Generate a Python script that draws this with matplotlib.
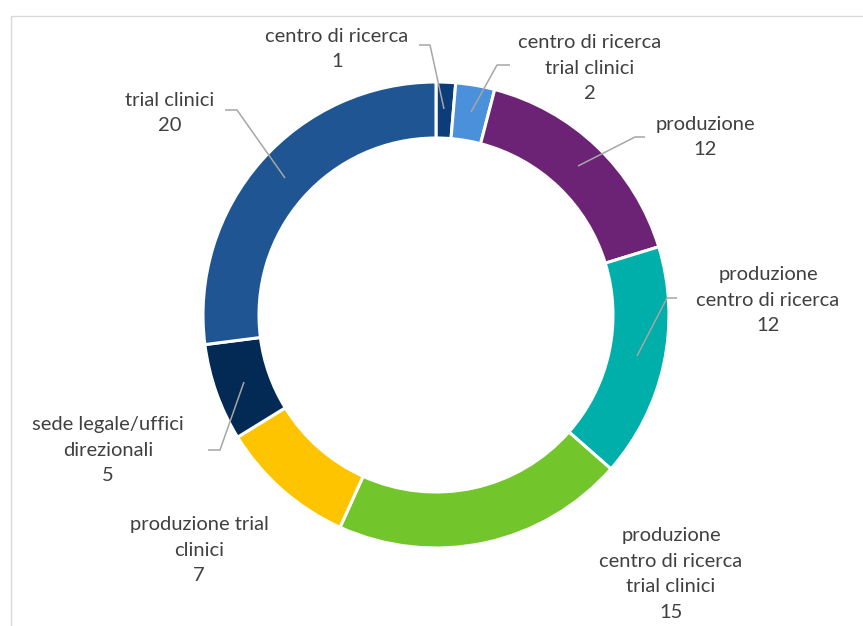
import matplotlib
matplotlib.use("Agg")
import matplotlib.pyplot as plt

categories = ["centro di ricerca", "centro di ricerca\ntrial clinici", "produzione",
              "produzione\ncentro di ricerca", "produzione\ncentro di ricerca\ntrial clinici",
              "produzione trial\nclinici", "sede legale/uffici\ndirezionali", "trial clinici"]
values = [1, 2, 12, 12, 15, 7, 5, 20]
colors = ["#0D3C7B", "#4A90DB", "#6C2275", "#00AFA9", "#72C62C", "#FFC400", "#022A55", "#1F5592"]

W, H = 863, 626
fig = plt.figure(figsize=(W / 100, H / 100), dpi=100)
ax = fig.add_axes([0, 0, 1, 1])
ax.set_xlim(0, W)
ax.set_ylim(0, H)
ax.set_aspect("equal")
ax.axis("off")

def Y(y):
    return H - y

# frame border (cropped)
ax.plot([10.5, 10.5, W + 5], [Y(H + 5), Y(15.5), Y(15.5)], color="#D9D9D9", lw=1.0, clip_on=False)

cx, cy, R = 436, 315, 233
ax.pie(values, colors=colors, startangle=90, counterclock=False,
       center=(cx, Y(cy)), radius=R, frame=True,
       wedgeprops=dict(width=56, edgecolor="white", linewidth=2.2))
ax.set_xlim(0, W)
ax.set_ylim(0, H)
ax.axis("off")

font = dict(family="Lato", fontsize=14.5, color="#404040", ha="center", va="center",
            linespacing=1.6)

labels_pos = [(337, 49), (590, 68), (705, 137), (768, 300), (671, 574), (199, 550), (108, 450), (170, 113)]
for cat, v, (x, y) in zip(categories, values, labels_pos):
    ax.text(x, Y(y), f"{cat}\n{v}", **font)

lc = "#A6A6A6"
leaders = [
    [(419, 45), (430, 45), (444, 109)],
    [(510, 65), (497, 65), (471, 112)],
    [(645, 137), (635, 137), (578, 166)],
    [(677, 298), (667, 298), (637, 356)],
    [(208, 450), (220, 450), (244, 382)],
    [(225, 110), (237, 110), (285, 178)],
]
for pts in leaders:
    ax.plot([p[0] for p in pts], [Y(p[1]) for p in pts], color=lc, lw=1.1, solid_capstyle="butt")

fig.savefig("out.png", dpi=100)
